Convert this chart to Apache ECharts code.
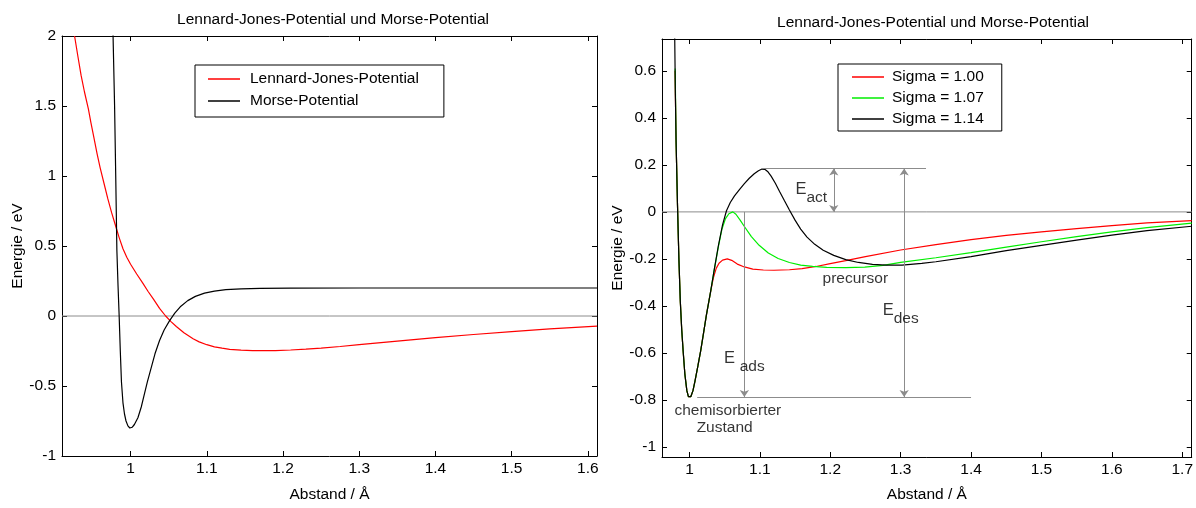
<!DOCTYPE html>
<html><head><meta charset="utf-8">
<script src="https://cdn.jsdelivr.net/npm/echarts@6/dist/echarts.min.js"></script>
<style>html,body{margin:0;padding:0;background:#fff}#c{width:1196px;height:508px}</style>
</head><body><div id="c"></div>
<script>
const FONT = 'Liberation Sans';
const FS = 15.5;
const titleText = 'Lennard-Jones-Potential und Morse-Potential';
const xName = 'Abstand / Å';
const yName = 'Energie / eV';
const leftXTicks = [1, 1.1, 1.2, 1.3, 1.4, 1.5, 1.6];
const leftYTicks = [-1, -0.5, 0, 0.5, 1, 1.5, 2];
const rightXTicks = [1, 1.1, 1.2, 1.3, 1.4, 1.5, 1.6, 1.7];
const rightYTicks = [-1, -0.8, -0.6, -0.4, -0.2, 0, 0.2, 0.4, 0.6];
const leftNames = ['Lennard-Jones-Potential', 'Morse-Potential'];
const rightNames = ['Sigma = 1.00', 'Sigma = 1.07', 'Sigma = 1.14'];

const lennardJones = [[0.9265,2.0],[0.931,1.85],[0.935,1.72],[0.9395,1.6],[0.9446,1.48],[0.948,1.38],[0.952,1.27],[0.956,1.16],[0.96,1.06],[0.965,0.95],[0.97,0.84],[0.975,0.74],[0.98,0.65],[0.985,0.56],[0.99,0.48],[0.995,0.42],[1.0,0.37],[1.008,0.3],[1.016,0.235],[1.023,0.175],[1.03,0.12],[1.038,0.055],[1.046,0.0],[1.053,-0.04],[1.06,-0.075],[1.07,-0.12],[1.082,-0.163],[1.09,-0.185],[1.1,-0.205],[1.11,-0.22],[1.12,-0.23],[1.13,-0.238],[1.145,-0.244],[1.16,-0.247],[1.175,-0.248],[1.19,-0.247],[1.21,-0.243],[1.23,-0.237],[1.25,-0.23],[1.275,-0.218],[1.3,-0.205],[1.35,-0.18],[1.4,-0.155],[1.45,-0.132],[1.5,-0.111],[1.55,-0.092],[1.612,-0.072]];
const morse = [[0.9768,2.05],[0.979,1.5],[0.9805,1.0],[0.982,0.47],[0.9835,0.22],[0.985,0.0],[0.9865,-0.25],[0.988,-0.47],[0.99,-0.62],[0.992,-0.7],[0.994,-0.75],[0.9965,-0.785],[0.999,-0.8],[1.002,-0.795],[1.005,-0.775],[1.0096,-0.727],[1.014,-0.65],[1.018,-0.56],[1.022,-0.47],[1.027,-0.37],[1.032,-0.27],[1.038,-0.175],[1.044,-0.1],[1.051,-0.035],[1.058,0.02],[1.066,0.07],[1.075,0.11],[1.085,0.14],[1.097,0.163],[1.11,0.178],[1.125,0.188],[1.145,0.194],[1.17,0.197],[1.21,0.199],[1.3,0.2],[1.612,0.2]];

const sigma100 = [[0.9795,0.6],[0.981,0.3],[0.983,0.03],[0.985,-0.2],[0.987,-0.38],[0.989,-0.5],[0.991,-0.59],[0.9935,-0.69],[0.9963,-0.76],[0.9985,-0.785],[1.0,-0.79],[1.002,-0.785],[1.005,-0.76],[1.008,-0.717],[1.012,-0.655],[1.016,-0.59],[1.02,-0.515],[1.024,-0.44],[1.03,-0.34],[1.034,-0.28],[1.038,-0.24],[1.042,-0.218],[1.047,-0.205],[1.0537,-0.2],[1.06,-0.206],[1.068,-0.222],[1.078,-0.234],[1.09,-0.243],[1.105,-0.247],[1.12,-0.248],[1.142,-0.246],[1.16,-0.241],[1.18,-0.232],[1.2,-0.22],[1.222,-0.207],[1.25,-0.19],[1.3,-0.162],[1.35,-0.139],[1.4,-0.118],[1.45,-0.1],[1.5,-0.085],[1.55,-0.071],[1.6,-0.058],[1.65,-0.047],[1.7135,-0.037]];
const sigma107 = [[0.9797,0.61],[0.981,0.3],[0.983,0.03],[0.985,-0.2],[0.987,-0.38],[0.989,-0.5],[0.991,-0.59],[0.9935,-0.69],[0.9963,-0.76],[0.9985,-0.785],[1.0,-0.79],[1.002,-0.785],[1.005,-0.76],[1.008,-0.717],[1.012,-0.655],[1.016,-0.59],[1.02,-0.515],[1.024,-0.44],[1.03,-0.34],[1.035,-0.25],[1.041,-0.15],[1.046,-0.075],[1.051,-0.03],[1.056,-0.008],[1.0616,0.0],[1.066,-0.01],[1.072,-0.035],[1.078,-0.062],[1.088,-0.105],[1.099,-0.142],[1.112,-0.175],[1.126,-0.198],[1.142,-0.215],[1.158,-0.226],[1.175,-0.232],[1.195,-0.236],[1.222,-0.237],[1.249,-0.235],[1.275,-0.227],[1.3,-0.215],[1.35,-0.195],[1.4,-0.173],[1.45,-0.15],[1.5,-0.127],[1.55,-0.105],[1.6,-0.085],[1.65,-0.067],[1.7135,-0.048]];
const sigma114 = [[0.979,0.76],[0.98,0.5],[0.981,0.3],[0.983,0.03],[0.985,-0.2],[0.987,-0.38],[0.989,-0.5],[0.991,-0.59],[0.9935,-0.69],[0.9963,-0.76],[0.9985,-0.785],[1.0,-0.79],[1.002,-0.785],[1.005,-0.76],[1.008,-0.717],[1.012,-0.655],[1.016,-0.59],[1.02,-0.515],[1.024,-0.44],[1.03,-0.34],[1.035,-0.25],[1.041,-0.145],[1.047,-0.055],[1.0526,0.005],[1.058,0.04],[1.064,0.068],[1.071,0.095],[1.078,0.12],[1.085,0.143],[1.092,0.162],[1.098,0.175],[1.103,0.182],[1.107,0.181],[1.111,0.172],[1.116,0.152],[1.122,0.122],[1.128,0.087],[1.135,0.047],[1.142,0.008],[1.15,-0.035],[1.158,-0.073],[1.167,-0.107],[1.178,-0.138],[1.19,-0.163],[1.205,-0.185],[1.222,-0.203],[1.24,-0.215],[1.26,-0.223],[1.28,-0.226],[1.302,-0.226],[1.33,-0.219],[1.35,-0.212],[1.4,-0.19],[1.45,-0.165],[1.5,-0.142],[1.55,-0.12],[1.6,-0.099],[1.65,-0.08],[1.7135,-0.061]];

// annotation geometry on the right chart (data coordinates)
const guideLines = [[[1.104,0.185],[1.336,0.185]], [[1.011,-0.787],[1.40,-0.787]]];
const arrowLines = [
  {from:[1.205,0.185], to:[1.205,0.0], startArrow:true},
  {from:[1.305,0.185], to:[1.305,-0.787], startArrow:true},
  {from:[1.078,0.0], to:[1.078,-0.787], startArrow:false}
];
const annotations = [
  {at:[1.173,0.08], text:'{e|E}{s|act}'},
  {at:[1.30,-0.434], text:'{e|E}{s|des}'},
  {at:[1.078,-0.64], text:'{e|E }{s|ads}'},
  {at:[1.2356,-0.286], text:'{t|precursor}'},
  {at:[1.0545,-0.846], text:'{t|chemisorbierter}'},
  {at:[1.05,-0.917], text:'{t|Zustand}'}
];

const L = {xmin:0.91, xmax:1.612, ymin:-1, ymax:2};
const R = {xmin:0.961, xmax:1.7135, ymin:-1.042, ymax:0.735};
const GRAY = '#8c8c8c';
const fmt = v => String(Math.round(v*100)/100);
const txt = {fontFamily: FONT, fontSize: FS, color: '#000'};

function xAxes(gi, rng, ticks, gap) {
  return [
    {type:'value', gridIndex:gi, position:'bottom', min:rng.xmin, max:rng.xmax,
     name:xName, nameLocation:'middle', nameGap:gap, nameTextStyle:txt,
     axisLine:{show:true, onZero:false, lineStyle:{color:'#000'}},
     axisTick:{show:true, inside:true, length:5, customValues:ticks, lineStyle:{color:'#000'}},
     axisLabel:{show:true, customValues:ticks, formatter:fmt, margin:5, ...txt},
     splitLine:{show:false}},
    {type:'value', gridIndex:gi, position:'top', min:rng.xmin, max:rng.xmax,
     axisLine:{show:true, onZero:false, lineStyle:{color:'#000'}},
     axisTick:{show:true, inside:true, length:5, customValues:ticks, lineStyle:{color:'#000'}},
     axisLabel:{show:false}, splitLine:{show:false}}
  ];
}
function yAxes(gi, rng, ticks) {
  return [
    {type:'value', gridIndex:gi, position:'left', min:rng.ymin, max:rng.ymax,
     name:yName, nameLocation:'middle', nameGap:36, nameTextStyle:txt,
     axisLine:{show:true, onZero:false, lineStyle:{color:'#000'}},
     axisTick:{show:true, inside:true, length:5, customValues:ticks, lineStyle:{color:'#000'}},
     axisLabel:{show:true, customValues:ticks, formatter:fmt, margin:6, ...txt},
     splitLine:{show:false}},
    {type:'value', gridIndex:gi, position:'right', min:rng.ymin, max:rng.ymax,
     axisLine:{show:true, onZero:false, lineStyle:{color:'#000'}},
     axisTick:{show:true, inside:true, length:5, customValues:ticks, lineStyle:{color:'#000'}},
     axisLabel:{show:false}, splitLine:{show:false}}
  ];
}
function curve(name, data, color, xi, yi) {
  return {type:'line', name, data, xAxisIndex:xi, yAxisIndex:yi, symbol:'none',
    smooth:false, lineStyle:{color, width:1.2}, itemStyle:{color},
    animation:false, z:3};
}
function zeroLine(rng, xi, yi) {
  return {type:'line', data:[[rng.xmin,0],[rng.xmax,0]], xAxisIndex:xi, yAxisIndex:yi,
    symbol:'none', lineStyle:{color:GRAY, width:1}, animation:false, z:2, silent:true};
}

const markData = guideLines.map(g => [{coord:g[0], symbol:'none'}, {coord:g[1], symbol:'none'}])
  .concat(arrowLines.map(a => [{coord:a.from, symbol:a.startArrow?'arrow':'none'}, {coord:a.to, symbol:'arrow'}]));

const option = {
  backgroundColor:'#fff',
  animation:false,
  title:[
    {text:titleText, left:328, top:7, textAlign:'center', textStyle:{...txt, fontWeight:'normal'}},
    {text:titleText, left:928, top:10, textAlign:'center', textStyle:{...txt, fontWeight:'normal'}}
  ],
  legend:[
    {data:leftNames, left:195, top:65, orient:'vertical', icon:'rect', itemWidth:32, itemHeight:1.5, itemGap:6,
     borderColor:'#000', borderWidth:1, borderRadius:0, padding:[6,25,8,13],
     textStyle:{...txt, padding:[0,0,0,5]}, backgroundColor:'#fff'},
    {data:rightNames, left:838, top:64, orient:'vertical', icon:'rect', itemWidth:32, itemHeight:1.5, itemGap:5,
     borderColor:'#000', borderWidth:1, borderRadius:0, padding:[5,18,4,14],
     textStyle:{...txt, padding:[0,0,0,3]}, backgroundColor:'#fff'}
  ],
  grid:[
    {left:62, top:36, width:535, height:421},
    {left:662, top:39, width:534, height:422}
  ],
  xAxis:[...xAxes(0, L, leftXTicks, 31), ...xAxes(1, R, rightXTicks, 30)],
  yAxis:[...yAxes(0, L, leftYTicks), ...yAxes(1, R, rightYTicks)],
  series:[
    zeroLine(L, 0, 0),
    curve(leftNames[0], lennardJones, '#ff0000', 0, 0),
    curve(leftNames[1], morse, '#000000', 0, 0),
    zeroLine(R, 2, 2),
    curve(rightNames[0], sigma100, '#ff0000', 2, 2),
    curve(rightNames[1], sigma107, '#00ee00', 2, 2),
    curve(rightNames[2], sigma114, '#000000', 2, 2),
    {type:'line', data:[], xAxisIndex:2, yAxisIndex:2, animation:false, silent:true,
     markLine:{silent:true, animation:false, symbolSize:7, label:{show:false},
       lineStyle:{color:GRAY, width:1, type:'solid'}, emphasis:{disabled:true}, data:markData}},
    {type:'scatter', xAxisIndex:2, yAxisIndex:2, symbolSize:0, silent:true, animation:false, z:5,
     data:annotations.map(a => ({value:a.at, label:{show:true, position:'inside', formatter:a.text}})),
     label:{show:true, position:'inside', rich:{
       e:{fontFamily:FONT, fontSize:FS+1, color:'#000', verticalAlign:'top'},
       s:{fontFamily:FONT, fontSize:FS, color:'#000', verticalAlign:'bottom', padding:[9,0,0,0]},
       t:{fontFamily:FONT, fontSize:FS, color:'#000'}
     }}}
  ]
};
const chart = echarts.init(document.getElementById('c'), null, {renderer:'canvas'});
chart.setOption(option);
</script></body></html>
